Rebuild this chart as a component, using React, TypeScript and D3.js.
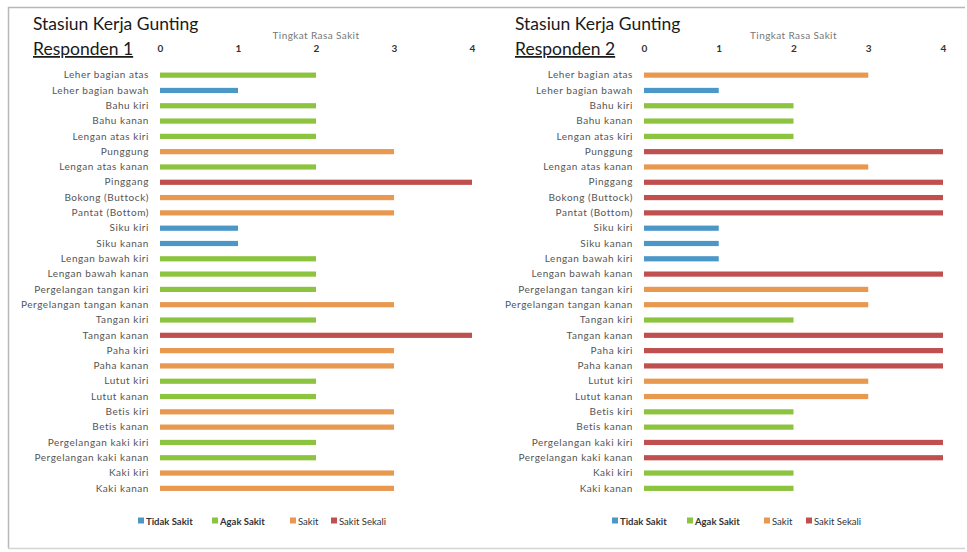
import { useRef, useEffect } from "react";
import * as d3 from "d3";

const parts = [
  "Leher bagian atas", "Leher bagian bawah", "Bahu kiri", "Bahu kanan",
  "Lengan atas kiri", "Punggung", "Lengan atas kanan", "Pinggang",
  "Bokong (Buttock)", "Pantat (Bottom)", "Siku kiri", "Siku kanan",
  "Lengan bawah kiri", "Lengan bawah kanan", "Pergelangan tangan kiri",
  "Pergelangan tangan kanan", "Tangan kiri", "Tangan kanan", "Paha kiri",
  "Paha kanan", "Lutut kiri", "Lutut kanan", "Betis kiri", "Betis kanan",
  "Pergelangan kaki kiri", "Pergelangan kaki kanan", "Kaki kiri", "Kaki kanan",
];

const responden1 = [2, 1, 2, 2, 2, 3, 2, 4, 3, 3, 1, 1, 2, 2, 2, 3, 2, 4, 3, 3, 2, 2, 3, 3, 2, 2, 3, 3];
const responden2 = [3, 1, 2, 2, 2, 4, 3, 4, 4, 4, 1, 1, 1, 4, 3, 3, 2, 4, 4, 4, 3, 3, 2, 2, 4, 4, 2, 2];

const levels = ["Tidak Sakit", "Agak Sakit", "Sakit", "Sakit Sekali"];
const levelColors = ["#4a97c8", "#8cc440", "#e8984f", "#c05050"];
const xTicks = [0, 1, 2, 3, 4];

// chart panels, positions in page pixels
const panels = [
  { name: "Responden 1", values: responden1, x0: 160, x4: 472, labelX: 149, titleX: 33, legendX: [138, 212, 290, 331] },
  { name: "Responden 2", values: responden2, x0: 644, x4: 943, labelX: 633, titleX: 515, legendX: [612, 687, 764, 806] },
];

function App() {
  const ref = useRef<SVGSVGElement>(null);

  useEffect(() => {
    const svg = d3.select(ref.current);
    svg.selectAll("*").remove();

    svg.append("rect").attr("width", 967).attr("height", 552).attr("fill", "#fff");
    // scanned frame
    svg.append("path")
      .attr("d", "M8.5,548 L8.5,7.5 L965,7.5")
      .attr("fill", "none").attr("stroke", "#b8b8b8").attr("stroke-width", 1.5);
    svg.append("line").attr("x1", 8).attr("x2", 965).attr("y1", 548.5).attr("y2", 548.5)
      .attr("stroke", "#d4d4d4").attr("stroke-width", 1.5);

    const font = "Lato, 'Open Sans', sans-serif";

    panels.forEach((p) => {
      const g = svg.append("g");
      const x = d3.scaleLinear().domain([0, 4]).range([p.x0, p.x4]);
      const y = d3.scaleBand().domain(parts).range([67.5, 496]).paddingInner(0.66).paddingOuter(0.33);

      g.append("text").attr("x", p.titleX).attr("y", 30).text("Stasiun Kerja Gunting")
        .attr("font-family", font).attr("font-size", 17.5).attr("fill", "#1a1a1a");
      g.append("text").attr("x", p.titleX).attr("y", 55).text(p.name)
        .attr("font-family", font).attr("font-size", 17.5).attr("fill", "#1a1a1a")
        .attr("text-decoration", "underline");

      g.append("text").attr("x", x(2)).attr("y", 39).attr("text-anchor", "middle")
        .text("Tingkat Rasa Sakit").attr("font-family", font).attr("font-size", 10)
        .attr("fill", "#777").attr("letter-spacing", 0.4);

      const axis = d3.axisTop(x).tickValues(xTicks).tickSize(0).tickFormat(d3.format("d"));
      const ax = g.append("g").attr("transform", "translate(0,55)").call(axis);
      ax.select(".domain").remove();
      ax.selectAll("text").attr("font-family", font).attr("font-size", 10)
        .attr("fill", "#333").attr("font-weight", "bold");

      g.selectAll("rect.bar").data(p.values).join("rect")
        .attr("class", "bar")
        .attr("x", x(0))
        .attr("y", (_d, i) => y(parts[i])!)
        .attr("width", (d) => x(d) - x(0))
        .attr("height", y.bandwidth())
        .attr("fill", (d) => levelColors[d - 1]);

      const yAxis = d3.axisLeft(y).tickSize(0).tickPadding(0);
      const ya = g.append("g").attr("transform", `translate(${p.labelX},0)`).call(yAxis);
      ya.select(".domain").remove();
      ya.selectAll("text").attr("font-family", font).attr("font-size", 10)
        .attr("fill", "#555").attr("letter-spacing", 0.55);

      const leg = g.append("g").selectAll("g").data(levels).join("g")
        .attr("transform", (_d, i) => `translate(${p.legendX[i]},521)`);
      leg.append("rect").attr("x", 0).attr("y", -3.5).attr("width", 6).attr("height", 6)
        .attr("fill", (_d, i) => levelColors[i]);
      leg.append("text").attr("x", 8).attr("y", 3.5).text((d) => d)
        .attr("font-family", font).attr("font-size", 9.5).attr("fill", "#333")
        .attr("font-weight", (_d, i) => (i < 2 ? "bold" : "normal"));
    });
  }, []);

  return (
    <svg
      ref={ref}
      width={967}
      height={552}
      style={{ position: "absolute", left: 0, top: 0 }}
    />
  );
}

export default App;
